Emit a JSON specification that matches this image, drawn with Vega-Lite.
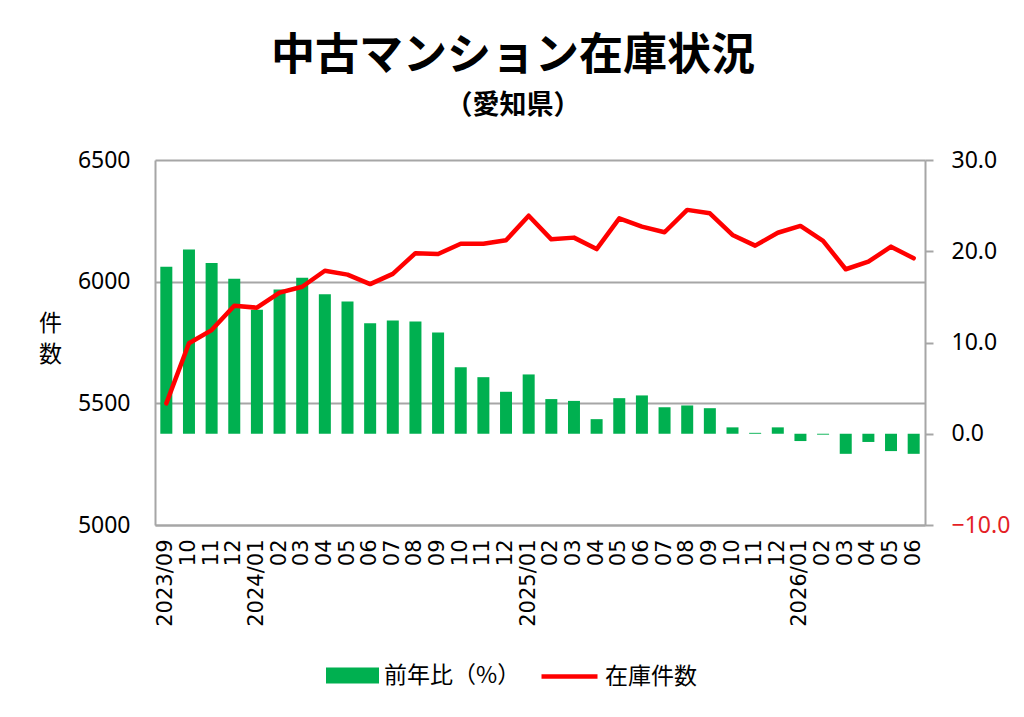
{
  "$schema": "https://vega.github.io/schema/vega-lite/v6.json",
  "autosize": {"type": "none"},
  "width": 770,
  "height": 365,
  "padding": {"left": 155, "top": 160, "right": 99, "bottom": 192},
  "background": "white",
  "title": {
    "text": "中古マンション在庫状況",
    "subtitle": "（愛知県）",
    "anchor": "middle",
    "frame": "group",
    "dx": -27,
    "font": "Noto Sans CJK JP",
    "fontSize": 44,
    "fontWeight": "bold",
    "color": "black",
    "subtitleFont": "Noto Sans CJK JP",
    "subtitleFontSize": 27,
    "subtitleFontWeight": "bold",
    "subtitleColor": "black",
    "subtitlePadding": 14,
    "offset": 30
  },
  "data": {
    "values": [
      {"month": "2023/09", "count": 5500, "yoy": 18.3},
      {"month": "2023/10", "count": 5747, "yoy": 20.2},
      {"month": "2023/11", "count": 5801, "yoy": 18.7},
      {"month": "2023/12", "count": 5901, "yoy": 17.0},
      {"month": "2024/01", "count": 5893, "yoy": 13.6},
      {"month": "2024/02", "count": 5955, "yoy": 15.8},
      {"month": "2024/03", "count": 5979, "yoy": 17.1},
      {"month": "2024/04", "count": 6045, "yoy": 15.3},
      {"month": "2024/05", "count": 6029, "yoy": 14.5},
      {"month": "2024/06", "count": 5990, "yoy": 12.1},
      {"month": "2024/07", "count": 6032, "yoy": 12.4},
      {"month": "2024/08", "count": 6117, "yoy": 12.3},
      {"month": "2024/09", "count": 6114, "yoy": 11.1},
      {"month": "2024/10", "count": 6156, "yoy": 7.3},
      {"month": "2024/11", "count": 6156, "yoy": 6.2},
      {"month": "2024/12", "count": 6170, "yoy": 4.6},
      {"month": "2025/01", "count": 6271, "yoy": 6.5},
      {"month": "2025/02", "count": 6174, "yoy": 3.8},
      {"month": "2025/03", "count": 6181, "yoy": 3.6},
      {"month": "2025/04", "count": 6134, "yoy": 1.6},
      {"month": "2025/05", "count": 6260, "yoy": 3.9},
      {"month": "2025/06", "count": 6226, "yoy": 4.2},
      {"month": "2025/07", "count": 6203, "yoy": 2.9},
      {"month": "2025/08", "count": 6295, "yoy": 3.1},
      {"month": "2025/09", "count": 6281, "yoy": 2.8},
      {"month": "2025/10", "count": 6192, "yoy": 0.7},
      {"month": "2025/11", "count": 6148, "yoy": 0.1},
      {"month": "2025/12", "count": 6201, "yoy": 0.7},
      {"month": "2026/01", "count": 6229, "yoy": -0.8},
      {"month": "2026/02", "count": 6168, "yoy": -0.1},
      {"month": "2026/03", "count": 6051, "yoy": -2.2},
      {"month": "2026/04", "count": 6082, "yoy": -0.9},
      {"month": "2026/05", "count": 6144, "yoy": -1.9},
      {"month": "2026/06", "count": 6096, "yoy": -2.2}
    ]
  },
  "encoding": {
    "x": {
      "field": "month",
      "type": "ordinal",
      "sort": null,
      "scale": {"type": "band", "paddingInner": 0.47, "paddingOuter": 0.235},
      "axis": {
        "title": null,
        "labelAngle": -90,
        "labelFont": "DejaVu Sans",
        "labelFontSize": 21,
        "labelColor": "black",
        "labelPadding": 14,
        "labelOverlap": false,
        "labelExpr": "(slice(datum.value, 5) == '01' || datum.value == '2023/09') ? datum.value : slice(datum.value, 5)",
        "ticks": false,
        "domainColor": "#a6a6a6",
        "domainWidth": 2,
        "grid": false
      }
    }
  },
  "layer": [
    {
      "mark": {"type": "bar"},
      "encoding": {
        "y": {
          "field": "yoy",
          "type": "quantitative",
          "scale": {"domain": [-10, 30], "nice": false},
          "axis": {
            "orient": "right",
            "title": null,
            "values": [-10, 0, 10, 20, 30],
            "format": ".1f",
            "grid": false,
            "ticks": true,
            "tickSize": 8,
            "tickColor": "#a6a6a6",
            "tickWidth": 2,
            "domainColor": "#a6a6a6",
            "domainWidth": 2,
            "labelPadding": 18,
            "labelFont": "Noto Sans",
            "labelFontSize": 23,
            "labelColor": {"condition": {"test": "datum.value < 0", "value": "#e41e26"}, "value": "black"}
          }
        },
        "fill": {
          "datum": "前年比（%）",
          "scale": {"range": ["#00b050"]},
          "legend": {
            "title": null,
            "orient": "none",
            "legendX": 171,
            "legendY": 489,
            "symbolType": "M-1,-0.3H1V0.3H-1Z",
            "symbolSize": 2809,
            "symbolStrokeWidth": 0,
            "labelOffset": 5,
            "labelFont": "Noto Sans CJK JP",
            "labelFontSize": 23,
            "labelColor": "black"
          }
        }
      }
    },
    {
      "mark": {"type": "line", "strokeWidth": 4.5, "strokeJoin": "round", "strokeCap": "round"},
      "encoding": {
        "y": {
          "field": "count",
          "type": "quantitative",
          "scale": {"domain": [5000, 6500], "nice": false, "zero": false},
          "axis": {
            "orient": "left",
            "title": ["件", "数"],
            "titleAngle": 0,
            "titleAlign": "center",
            "titleBaseline": "top",
            "titleX": -105,
            "titleY": 152,
            "titleFont": "Noto Sans CJK JP",
            "titleFontSize": 23,
            "titleFontWeight": "normal",
            "titleLineHeight": 31,
            "titleColor": "black",
            "values": [5000, 5500, 6000, 6500],
            "format": "d",
            "grid": true,
            "gridColor": "#a6a6a6",
            "gridWidth": 2,
            "ticks": false,
            "domainColor": "#a6a6a6",
            "domainWidth": 2,
            "labelPadding": 25,
            "labelFont": "Noto Sans",
            "labelFontSize": 23,
            "labelColor": "black"
          }
        },
        "stroke": {
          "datum": "在庫件数",
          "scale": {"range": ["#ff0000"]},
          "legend": {
            "title": null,
            "orient": "none",
            "legendX": 384,
            "legendY": 486,
            "symbolType": "stroke",
            "symbolSize": 3136,
            "symbolStrokeWidth": 4.5,
            "labelOffset": 5,
            "labelFont": "Noto Sans CJK JP",
            "labelFontSize": 23,
            "labelColor": "black"
          }
        }
      }
    }
  ],
  "resolve": {"scale": {"y": "independent"}},
  "config": {
    "view": {"stroke": null}
  }
}
